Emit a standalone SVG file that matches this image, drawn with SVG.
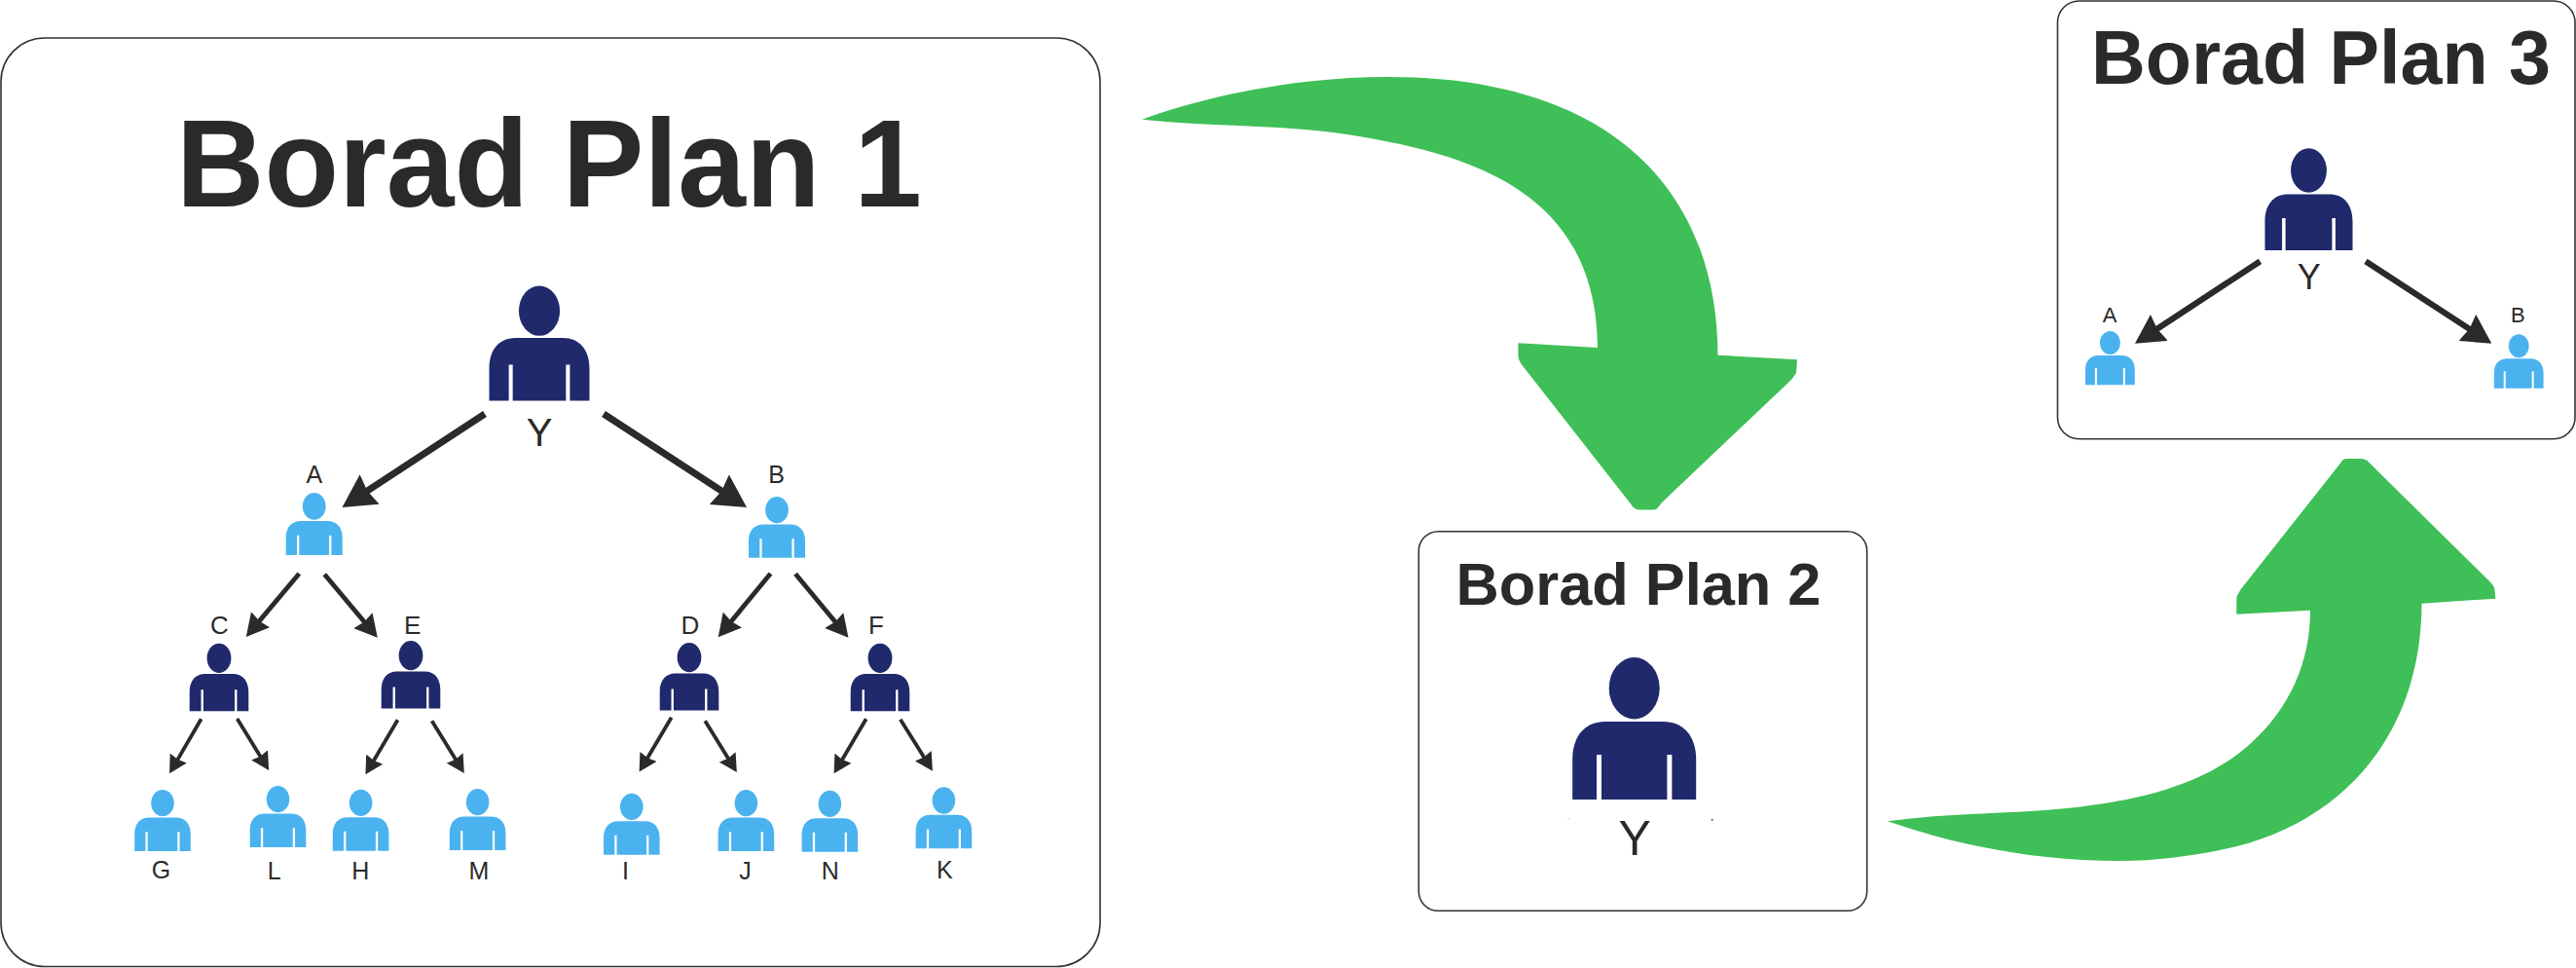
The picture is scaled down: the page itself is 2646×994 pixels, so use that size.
<svg xmlns="http://www.w3.org/2000/svg" width="2646" height="994" viewBox="0 0 2646 994">
<style>
.board{fill:#fff;stroke:#333;stroke-width:1.6}
.title{font-family:"Liberation Sans",Arial,sans-serif;font-weight:700;fill:#2b2a29}
.lbl{font-family:"Liberation Sans",Arial,sans-serif;fill:#2b2a29;text-anchor:middle}
.navy{fill:#20296b}
.sky{fill:#4ab3ef}
.flow{fill:#3fbf57}
.edge{stroke:#2b2a29;fill:none;marker-end:url(#head)}
.e1{stroke-width:7}
.e2{stroke-width:4.8}
.e3{stroke-width:3.8}
.e4{stroke-width:6.2}
</style>
<defs>
<marker id="head" markerUnits="strokeWidth" viewBox="0 -2.6 4.8 5.2" refX="1.4" refY="0" markerWidth="4.8" markerHeight="5.2" orient="auto">
<path d="M0 -2.6L4.8 0L0 2.6L.4 0Z" fill="#2b2a29"/>
</marker>
<g id="person">
<ellipse cx="0" cy="31.7" rx="26" ry="31.7"/>
<path d="M-63.5 146V105C-63.5 80-50 66-30 66H30C50 66 63.5 80 63.5 105V146H38.7V100H33.7V146H-33.7V100H-38.7V146Z"/>
</g>
</defs>
<rect width="2646" height="994" fill="#fff"/>
<rect id="board-1" class="board" x="1" y="39" width="1129" height="953.5" rx="45" ry="45"/>
<rect id="board-2" class="board" x="1457.3" y="545.7" width="460.4" height="389.6" rx="20" ry="20"/>
<rect id="board-3" class="board" x="2113.5" y="1" width="531.5" height="449.7" rx="22" ry="22"/>
<text class="title" x="181" y="212" font-size="128" textLength="766" lengthAdjust="spacingAndGlyphs">Borad Plan 1</text>
<text class="title" x="1495.5" y="621.3" font-size="61" textLength="375" lengthAdjust="spacingAndGlyphs">Borad Plan 2</text>
<text class="title" x="2148" y="86" font-size="77" textLength="472" lengthAdjust="spacingAndGlyphs">Borad Plan 3</text>
<g id="flows">
<path id="flow-1-2" class="flow" d="M1173 122.7C1250 95 1340 79 1426 79C1660 79 1764 200 1764.5 364.7L1846 369.3L1845 383L1840 390L1706.3 516.7C1703 522 1701 523.5 1698 523.5H1684C1680 523.5 1677 521 1675.7 518.3L1563.5 375C1560 370 1559.4 368 1559.4 362V352.3L1641 357C1640 190 1500 155 1369.6 136C1310 128 1240 130 1173 122.7Z"/>
<path id="flow-2-3" class="flow" d="M1938.8 843.3C2000 835 2060 836 2123 830C2200 822 2265 805 2310 765C2352 728 2373 680 2373 626.7L2297.3 630.7V615C2297.3 612 2299 610 2301.8 605L2404.5 475C2406 472 2408 471 2410 471H2425C2428 471 2431 472 2433.5 475L2558.5 598.3C2561 601 2562 603 2562.5 606L2563.4 614.7L2487.5 619.7C2487 760 2400 850 2280 873C2250 879 2215 884 2176.8 884C2090 884 2010 868 1938.8 843.3Z"/>
</g>
<g id="connectors">
<path class="edge e1" d="M498 425L371.4 507.9"/>
<path class="edge e1" d="M620 425L747.1 508"/>
<path class="edge e2" d="M307.3 589L263.3 641.4"/>
<path class="edge e2" d="M333.3 589.7L377.3 642.3"/>
<path class="edge e2" d="M791.5 589L748.1 641.7"/>
<path class="edge e2" d="M817 589.3L861 642.3"/>
<path class="edge e3" d="M206.7 738.3L180.6 783.1"/>
<path class="edge e3" d="M243.6 738L269.4 779.9"/>
<path class="edge e3" d="M408.5 739.3L382 784.2"/>
<path class="edge e3" d="M443.6 740.3L470 782.9"/>
<path class="edge e3" d="M689.7 736.7L663.2 781.5"/>
<path class="edge e3" d="M724.2 740.3L750 781.9"/>
<path class="edge e3" d="M889.7 738.3L863.2 783.2"/>
<path class="edge e3" d="M924.8 738.7L951.1 780.7"/>
<path class="edge e4" d="M2321.5 268.3L2210.6 341.2"/>
<path class="edge e4" d="M2430 268.3L2541.7 341.2"/>
</g>
<g id="plan1-Y"><use href="#person" class="navy" transform="translate(554 293.6) scale(.811 .808)"/><text class="lbl" x="554" y="458" font-size="40">Y</text></g>
<g id="plan1-A"><use href="#person" class="sky" transform="translate(322.7 506) scale(.457 .438)"/><text class="lbl" x="322.8" y="496" font-size="25">A</text></g>
<g id="plan1-B"><use href="#person" class="sky" transform="translate(798 510) scale(.457 .43)"/><text class="lbl" x="797.5" y="496" font-size="25">B</text></g>
<g id="plan1-C"><use href="#person" class="navy" transform="translate(225 660.7) scale(.477 .476)"/><text class="lbl" x="225.5" y="651" font-size="26">C</text></g>
<g id="plan1-E"><use href="#person" class="navy" transform="translate(422 658) scale(.477 .476)"/><text class="lbl" x="423.6" y="651" font-size="26">E</text></g>
<g id="plan1-D"><use href="#person" class="navy" transform="translate(708 660) scale(.477 .476)"/><text class="lbl" x="709" y="651" font-size="26">D</text></g>
<g id="plan1-F"><use href="#person" class="navy" transform="translate(904 660.7) scale(.477 .476)"/><text class="lbl" x="900" y="651" font-size="26">F</text></g>
<g id="plan1-G"><use href="#person" class="sky" transform="translate(167 811) scale(.4535 .4315)"/><text class="lbl" x="165.5" y="902" font-size="25">G</text></g>
<g id="plan1-L"><use href="#person" class="sky" transform="translate(285.5 807) scale(.4535 .4315)"/><text class="lbl" x="281.8" y="903.3" font-size="25">L</text></g>
<g id="plan1-H"><use href="#person" class="sky" transform="translate(370.6 810.7) scale(.4535 .4315)"/><text class="lbl" x="370.3" y="903.3" font-size="25">H</text></g>
<g id="plan1-M"><use href="#person" class="sky" transform="translate(490.6 810) scale(.4535 .4315)"/><text class="lbl" x="492" y="903.3" font-size="25">M</text></g>
<g id="plan1-I"><use href="#person" class="sky" transform="translate(648.8 814.7) scale(.4535 .4315)"/><text class="lbl" x="642.4" y="902.7" font-size="25">I</text></g>
<g id="plan1-J"><use href="#person" class="sky" transform="translate(766.4 811) scale(.4535 .4315)"/><text class="lbl" x="765.5" y="902.7" font-size="25">J</text></g>
<g id="plan1-N"><use href="#person" class="sky" transform="translate(852.4 811.7) scale(.4535 .4315)"/><text class="lbl" x="852.7" y="902.7" font-size="25">N</text></g>
<g id="plan1-K"><use href="#person" class="sky" transform="translate(969.4 808.3) scale(.4535 .4315)"/><text class="lbl" x="970.3" y="902.3" font-size="25">K</text></g>
<g id="plan2-Y"><use href="#person" class="navy" transform="translate(1678.7 675)"/><text class="lbl" x="1679.3" y="878" font-size="50">Y</text><circle cx="1758.7" cy="841.7" r="1" fill="#555"/><circle cx="1611" cy="840.7" r=".6" fill="#aaa"/></g>
<g id="plan3-Y"><use href="#person" class="navy" transform="translate(2371.5 152.3) scale(.709 .717)"/><text class="lbl" x="2371.7" y="297" font-size="36">Y</text></g>
<g id="plan3-A"><use href="#person" class="sky" transform="translate(2167.4 340) scale(.4 .379)"/><text class="lbl" x="2167" y="330.7" font-size="22">A</text></g>
<g id="plan3-B"><use href="#person" class="sky" transform="translate(2587.2 343.3) scale(.4 .379)"/><text class="lbl" x="2586.4" y="330.7" font-size="22">B</text></g>
</svg>
